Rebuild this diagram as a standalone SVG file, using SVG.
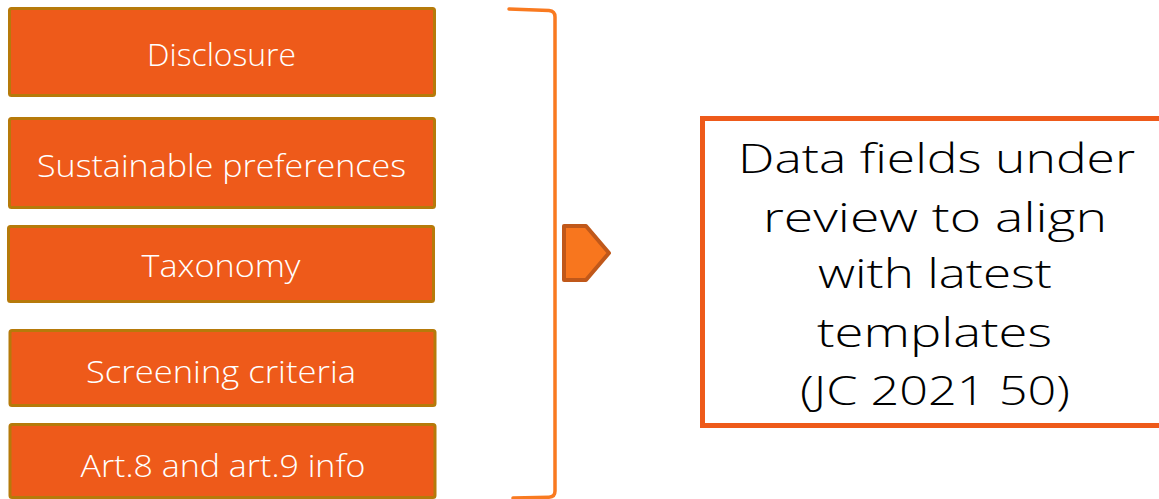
<svg xmlns="http://www.w3.org/2000/svg" width="1159" height="499" viewBox="0 0 1159 499">
  <style>
    .item rect { fill: #EE5A1A; stroke: #B67A0A; stroke-width: 3; }
    .item text { font-family: "Open Sans", "Liberation Sans", Arial, sans-serif; font-weight: 300; font-size: 31px; fill: #FFFFFF; text-anchor: middle; }
    .result rect { fill: #FFFFFF; stroke: #EE5A1A; stroke-width: 5; }
    .result text { font-family: "Open Sans", "Liberation Sans", Arial, sans-serif; font-weight: 300; font-size: 41px; fill: #000000; text-anchor: middle; }
    .brace { fill: none; stroke: #F97A20; stroke-width: 3.5; stroke-linecap: round; stroke-linejoin: round; }
    .pointer { fill: #F8761E; stroke: #C0581A; stroke-width: 4; stroke-linejoin: round; }
  </style>

  <!-- list of items -->
  <g id="disclosure" class="item">
    <rect x="9.5" y="8.5" width="425" height="87" rx="2"/>
    <text x="221.5" y="66" textLength="149" lengthAdjust="spacingAndGlyphs">Disclosure</text>
  </g>
  <g id="sustainable-preferences" class="item">
    <rect x="9.5" y="118.5" width="425" height="89" rx="2"/>
    <text x="221.5" y="177" textLength="369" lengthAdjust="spacingAndGlyphs">Sustainable preferences</text>
  </g>
  <g id="taxonomy" class="item">
    <rect x="8.5" y="226.5" width="425" height="75" rx="2"/>
    <text x="221" y="277" textLength="159" lengthAdjust="spacingAndGlyphs">Taxonomy</text>
  </g>
  <g id="screening-criteria" class="item">
    <rect x="10" y="330.5" width="425" height="75" rx="2"/>
    <text x="221" y="383" textLength="270" lengthAdjust="spacingAndGlyphs">Screening criteria</text>
  </g>
  <g id="art-info" class="item">
    <rect x="10" y="424.5" width="425" height="73" rx="2"/>
    <text x="223" y="477" textLength="285" lengthAdjust="spacingAndGlyphs">Art.8 and art.9 info</text>
  </g>

  <!-- bracket and pointer -->
  <g id="connectors">
    <path class="brace" d="M509,9 L549,10.5 Q555,11 555,17 L555,491 Q555,497 549,497.2 L513,498"/>
    <path class="pointer" d="M564,226 L586,226 L609,253 L586,280 L564,280 Z"/>
  </g>

  <!-- outcome box -->
  <g id="outcome" class="result">
    <rect x="702.5" y="118.5" width="480" height="307"/>
    <text x="936.5" y="173" textLength="397" lengthAdjust="spacingAndGlyphs">Data fields under</text>
    <text x="935" y="232" textLength="344" lengthAdjust="spacingAndGlyphs">review to align</text>
    <text x="935" y="288" textLength="234" lengthAdjust="spacingAndGlyphs">with latest</text>
    <text x="934.5" y="347" textLength="235" lengthAdjust="spacingAndGlyphs">templates</text>
    <text x="935" y="405" textLength="270" lengthAdjust="spacingAndGlyphs">(JC 2021 50)</text>
  </g>
</svg>
